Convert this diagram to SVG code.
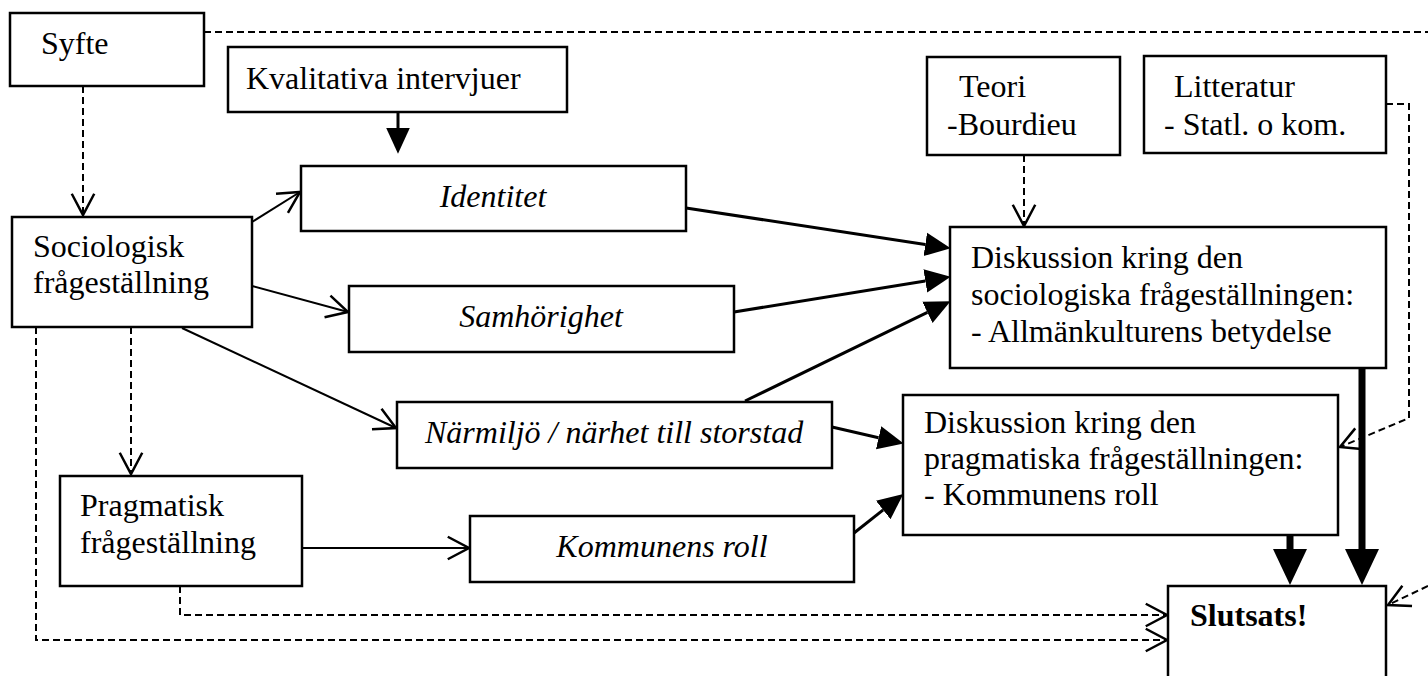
<svg xmlns="http://www.w3.org/2000/svg" width="1428" height="676" viewBox="0 0 1428 676">
<defs>
<style>
.box{fill:#fff;stroke:#000;stroke-width:2.5}
.t{font-family:"Liberation Serif","Times New Roman",serif;font-size:32px;fill:#000}
.i{font-style:italic}
.b{font-weight:bold}
.thin{fill:none;stroke:#000;stroke-width:2}
.dash{fill:none;stroke:#000;stroke-width:2;stroke-dasharray:7 4}
.med{fill:none;stroke:#000;stroke-width:3}
.thick{fill:none;stroke:#000;stroke-width:7}
.head{fill:#000;stroke:none}
</style>
<marker id="open" markerUnits="userSpaceOnUse" markerWidth="30" markerHeight="30" viewBox="-20 -12 24 24" refX="0" refY="0" orient="auto">
<path d="M-17,-9 L0,0 L-17,9" fill="none" stroke="#000" stroke-width="2"/>
</marker>
<marker id="fill" markerUnits="userSpaceOnUse" markerWidth="30" markerHeight="30" viewBox="0 -13 28 26" refX="0" refY="0" orient="auto">
<path d="M0,-11 L24,0 L0,11 Z" fill="#000"/>
</marker>
</defs>
<rect x="0" y="0" width="1428" height="676" fill="#fff"/>

<g id="connectors">
<path class="dash" d="M204,32 L1428,32"/>
<path class="dash" d="M83,86 L83,215" marker-end="url(#open)"/>
<path class="dash" d="M1024,155 L1024,226" marker-end="url(#open)"/>
<path class="dash" d="M131,327 L131,474" marker-end="url(#open)"/>
<path class="dash" d="M180,586 L180,615 L1167,615" marker-end="url(#open)"/>
<path class="dash" d="M36,327 L36,640 L1167,640" marker-end="url(#open)"/>
<path class="dash" d="M1386,104 L1409,104 L1409,418 L1340,447" marker-end="url(#open)"/>
<path class="dash" d="M1428,586 L1388,605" marker-end="url(#open)"/>
<path class="thin" d="M252,222 L300,192" marker-end="url(#open)"/>
<path class="thin" d="M252,286 L348,312" marker-end="url(#open)"/>
<path class="thin" d="M182,328 L396,428" marker-end="url(#open)"/>
<path class="thin" d="M302,548 L469,548" marker-end="url(#open)"/>
<path class="med" d="M398,112 L398,128" marker-end="url(#fill)"/>
<path class="med" d="M686,208 L925.3,244.4" marker-end="url(#fill)"/>
<path class="med" d="M734,312 L925.3,280.9" marker-end="url(#fill)"/>
<path class="med" d="M745,401 L927.4,312.4" marker-end="url(#fill)"/>
<path class="med" d="M832,427 L878.6,437.7" marker-end="url(#fill)"/>
<path class="med" d="M854,533 L883.2,509.9" marker-end="url(#fill)"/>
<path class="thick" d="M1362,368 L1362,551"/>
<polygon class="head" points="1345,549 1379,549 1362,585"/>
<path class="thick" d="M1290,535 L1290,551"/>
<polygon class="head" points="1273,549 1307,549 1290,585"/>
</g>

<g id="syfte"><rect class="box" x="10" y="13" width="194" height="73"/><text class="t" x="41" y="54">Syfte</text></g>
<g id="kvalitativa"><rect class="box" x="228" y="47" width="339" height="65"/><text class="t" x="246" y="89">Kvalitativa intervjuer</text></g>
<g id="teori"><rect class="box" x="927" y="57" width="193" height="98"/><text class="t" x="959" y="97">Teori</text><text class="t" x="947" y="135">-Bourdieu</text></g>
<g id="litteratur"><rect class="box" x="1144" y="56" width="242" height="97"/><text class="t" x="1174" y="97">Litteratur</text><text class="t" x="1164" y="135">- Statl. o kom.</text></g>
<g id="identitet"><rect class="box" x="301" y="166" width="385" height="65"/><text class="t i" x="493" y="207" text-anchor="middle">Identitet</text></g>
<g id="sociologisk"><rect class="box" x="12" y="217" width="240" height="110"/><text class="t" x="33" y="257">Sociologisk</text><text class="t" x="33" y="293">frågeställning</text></g>
<g id="samhorighet"><rect class="box" x="349" y="286" width="385" height="66"/><text class="t i" x="541" y="327" text-anchor="middle">Samhörighet</text></g>
<g id="disk-soc"><rect class="box" x="950" y="227" width="436" height="141"/><text class="t" x="971" y="268">Diskussion kring den</text><text class="t" x="971" y="305">sociologiska frågeställningen:</text><text class="t" x="971" y="342">- Allmänkulturens betydelse</text></g>
<g id="narmiljo"><rect class="box" x="397" y="402" width="435" height="66"/><text class="t i" x="425" y="443">Närmiljö / närhet till storstad</text></g>
<g id="disk-prag"><rect class="box" x="903" y="395" width="435" height="140"/><text class="t" x="924" y="433">Diskussion kring den</text><text class="t" x="924" y="469">pragmatiska frågeställningen:</text><text class="t" x="924" y="505">- Kommunens roll</text></g>
<g id="pragmatisk"><rect class="box" x="60" y="476" width="242" height="110"/><text class="t" x="80" y="516">Pragmatisk</text><text class="t" x="80" y="553">frågeställning</text></g>
<g id="kommunens"><rect class="box" x="470" y="516" width="384" height="66"/><text class="t i" x="662" y="557" text-anchor="middle">Kommunens roll</text></g>
<g id="slutsats"><path class="box" d="M1168,680 L1168,586 L1386,586 L1386,680"/><text class="t b" x="1190" y="626">Slutsats!</text></g>
</svg>
